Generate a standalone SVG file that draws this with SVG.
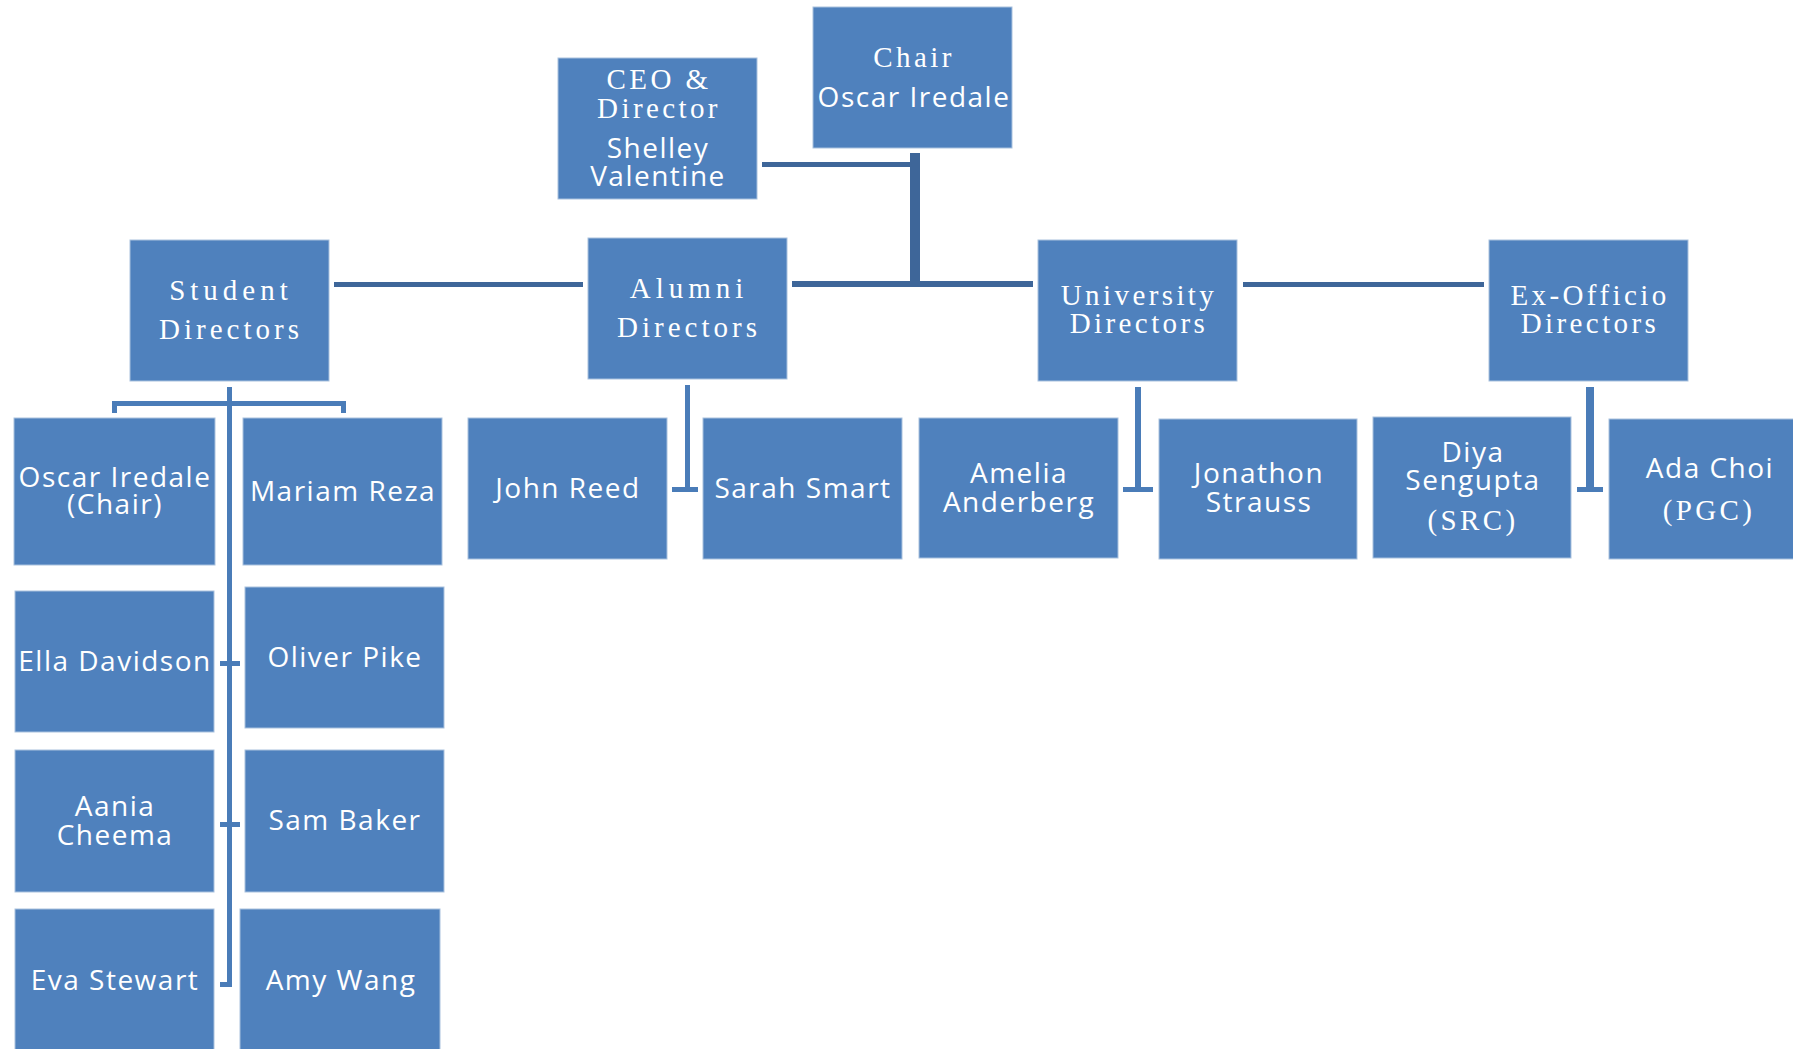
<svg xmlns="http://www.w3.org/2000/svg" width="1793" height="1049" viewBox="0 0 1793 1049">
<style>
.box{fill:#4F81BD;stroke:#A9C1DE;stroke-width:1}
.h{font-family:"Liberation Serif","Times New Roman",serif;font-size:29px;fill:#fff;text-anchor:middle;letter-spacing:3.4px}
.n{font-family:"Open Sans","Noto Sans",sans-serif;font-size:28px;fill:#fff;text-anchor:middle;letter-spacing:1.5px}
.dk{fill:#3E6699}
.lt{fill:#4A7CB8}
</style>
<rect width="1793" height="1049" fill="#fff"/>
<g id="connectors">
<rect class="dk" x="762" y="162" width="153" height="5"/>
<rect class="dk" x="910" y="153" width="10" height="134"/>
<rect class="dk" x="334" y="282" width="249" height="5"/>
<rect class="dk" x="792" y="281" width="241" height="6"/>
<rect class="dk" x="1243" y="282" width="241" height="5"/>
<rect class="lt" x="227" y="387" width="5" height="600"/>
<path class="lt" d="M112 401H346V413H341V406H117V413H112Z"/>
<rect class="lt" x="220" y="661" width="20" height="5"/>
<rect class="lt" x="220" y="822" width="20" height="5"/>
<rect class="lt" x="220" y="982" width="12" height="5"/>
<rect class="lt" x="685" y="385" width="5" height="107"/>
<rect class="lt" x="672" y="487" width="26" height="5"/>
<rect class="lt" x="1135" y="387" width="6" height="105"/>
<rect class="lt" x="1123" y="487" width="30" height="5"/>
<rect class="lt" x="1586" y="387" width="8" height="105"/>
<rect class="lt" x="1577" y="487" width="26" height="5"/>
</g>
<g id="chair"><rect class="box" x="813" y="7" width="199" height="141"/>
<text class="h" x="914" y="67">Chair</text><text class="n" x="914" y="107">Oscar Iredale</text></g>
<g id="ceo"><rect class="box" x="558" y="58" width="199" height="141"/>
<text class="h" x="659" y="89">CEO &amp;</text><text class="h" x="659" y="118">Director</text>
<text class="n" x="658" y="158">Shelley</text><text class="n" x="658" y="186">Valentine</text></g>
<g id="student"><rect class="box" x="130" y="240" width="199" height="141"/>
<text class="h" x="231" y="300" style="letter-spacing:5px">Student</text><text class="h" x="231" y="339" style="letter-spacing:4px">Directors</text></g>
<g id="alumni"><rect class="box" x="588" y="238" width="199" height="141"/>
<text class="h" x="689" y="298" style="letter-spacing:5px">Alumni</text><text class="h" x="689" y="337" style="letter-spacing:4px">Directors</text></g>
<g id="university"><rect class="box" x="1038" y="240" width="199" height="141"/>
<text class="h" x="1139" y="305">University</text><text class="h" x="1139" y="333">Directors</text></g>
<g id="exofficio"><rect class="box" x="1489" y="240" width="199" height="141"/>
<text class="h" x="1590" y="305">Ex-Officio</text><text class="h" x="1590" y="333">Directors</text></g>
<g id="oscar"><rect class="box" x="14" y="418" width="201" height="147"/>
<text class="n" x="115" y="487">Oscar Iredale</text><text class="n" x="115" y="514">(Chair)</text></g>
<g id="mariam"><rect class="box" x="243" y="418" width="199" height="147"/>
<text class="n" x="343" y="501">Mariam Reza</text></g>
<g id="ella"><rect class="box" x="15" y="591" width="199" height="141"/>
<text class="n" x="115" y="671">Ella Davidson</text></g>
<g id="oliver"><rect class="box" x="245" y="587" width="199" height="141"/>
<text class="n" x="345" y="667">Oliver Pike</text></g>
<g id="aania"><rect class="box" x="15" y="750" width="199" height="142"/>
<text class="n" x="115" y="816">Aania</text><text class="n" x="115" y="845">Cheema</text></g>
<g id="sam"><rect class="box" x="245" y="750" width="199" height="142"/>
<text class="n" x="345" y="830">Sam Baker</text></g>
<g id="eva"><rect class="box" x="15" y="909" width="199" height="150"/>
<text class="n" x="115" y="990">Eva Stewart</text></g>
<g id="amy"><rect class="box" x="240" y="909" width="200" height="150"/>
<text class="n" x="341" y="990">Amy Wang</text></g>
<g id="john"><rect class="box" x="468" y="418" width="199" height="141"/>
<text class="n" x="568" y="498">John Reed</text></g>
<g id="sarah"><rect class="box" x="703" y="418" width="199" height="141"/>
<text class="n" x="803" y="498">Sarah Smart</text></g>
<g id="amelia"><rect class="box" x="919" y="418" width="199" height="140"/>
<text class="n" x="1019" y="483">Amelia</text><text class="n" x="1019" y="512">Anderberg</text></g>
<g id="jonathon"><rect class="box" x="1159" y="419" width="198" height="140"/>
<text class="n" x="1259" y="483">Jonathon</text><text class="n" x="1259" y="512">Strauss</text></g>
<g id="diya"><rect class="box" x="1373" y="417" width="198" height="141"/>
<text class="n" x="1473" y="462">Diya</text><text class="n" x="1473" y="490">Sengupta</text><text class="h" x="1473" y="530">(SRC)</text></g>
<g id="ada"><rect class="box" x="1609" y="419" width="199" height="140"/>
<text class="n" x="1710" y="478">Ada Choi</text><text class="h" x="1709" y="520">(PGC)</text></g>
</svg>
